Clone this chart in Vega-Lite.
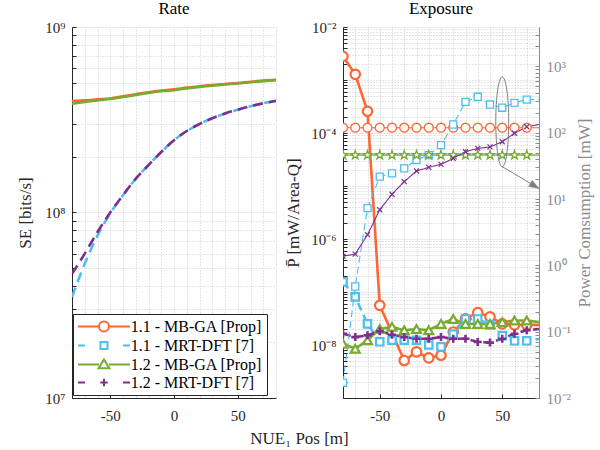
{
  "$schema": "https://vega.github.io/schema/vega-lite/v6.json",
  "autosize": {"type": "pad"},
  "padding": {"left": 16, "top": 0, "right": 8, "bottom": 4},
  "background": "white",
  "config": {
    "font": "Liberation Serif, Times New Roman, serif",
    "view": {"stroke": null},
    "axis": {
      "labelFont": "Liberation Serif, Times New Roman, serif", "titleFont": "Liberation Serif, Times New Roman, serif",
      "labelFontSize": 15, "titleFontSize": 17, "titleFontWeight": "normal",
      "labelColor": "#262626", "titleColor": "#262626",
      "domainColor": "#262626", "tickColor": "#262626", "domainWidth": 1,
      "labelOverlap": false, "labelFlush": false, "gridWidth": 0.8
    },
    "legend": {"labelFont": "Liberation Serif, Times New Roman, serif"},
    "title": {"font": "Liberation Serif, Times New Roman, serif", "fontSize": 17, "fontWeight": "normal", "color": "#000000"}
  },
  "datasets": {
    "se": [
      {"x": -80, "s": "1.1 - MB-GA [Prop]", "v": 3.99e8}, {"x": -70, "s": "1.1 - MB-GA [Prop]", "v": 4.02e8},
      {"x": -60, "s": "1.1 - MB-GA [Prop]", "v": 4.07e8}, {"x": -50, "s": "1.1 - MB-GA [Prop]", "v": 4.12e8},
      {"x": -40, "s": "1.1 - MB-GA [Prop]", "v": 4.23e8}, {"x": -30, "s": "1.1 - MB-GA [Prop]", "v": 4.34e8},
      {"x": -20, "s": "1.1 - MB-GA [Prop]", "v": 4.45e8}, {"x": -10, "s": "1.1 - MB-GA [Prop]", "v": 4.54e8},
      {"x": 0, "s": "1.1 - MB-GA [Prop]", "v": 4.61e8}, {"x": 10, "s": "1.1 - MB-GA [Prop]", "v": 4.71e8},
      {"x": 20, "s": "1.1 - MB-GA [Prop]", "v": 4.79e8}, {"x": 30, "s": "1.1 - MB-GA [Prop]", "v": 4.87e8},
      {"x": 40, "s": "1.1 - MB-GA [Prop]", "v": 4.93e8}, {"x": 50, "s": "1.1 - MB-GA [Prop]", "v": 4.99e8},
      {"x": 60, "s": "1.1 - MB-GA [Prop]", "v": 5.07e8}, {"x": 70, "s": "1.1 - MB-GA [Prop]", "v": 5.14e8},
      {"x": 80, "s": "1.1 - MB-GA [Prop]", "v": 5.2e8},
      {"x": -80, "s": "1.1 - MRT-DFT [7]", "v": 3.5e7}, {"x": -70, "s": "1.1 - MRT-DFT [7]", "v": 5.3e7},
      {"x": -60, "s": "1.1 - MRT-DFT [7]", "v": 7.5e7}, {"x": -50, "s": "1.1 - MRT-DFT [7]", "v": 9.9e7},
      {"x": -40, "s": "1.1 - MRT-DFT [7]", "v": 1.24e8}, {"x": -30, "s": "1.1 - MRT-DFT [7]", "v": 1.52e8},
      {"x": -20, "s": "1.1 - MRT-DFT [7]", "v": 1.8e8}, {"x": -10, "s": "1.1 - MRT-DFT [7]", "v": 2.12e8},
      {"x": 0, "s": "1.1 - MRT-DFT [7]", "v": 2.45e8}, {"x": 10, "s": "1.1 - MRT-DFT [7]", "v": 2.75e8},
      {"x": 20, "s": "1.1 - MRT-DFT [7]", "v": 3.0e8}, {"x": 30, "s": "1.1 - MRT-DFT [7]", "v": 3.22e8},
      {"x": 40, "s": "1.1 - MRT-DFT [7]", "v": 3.42e8}, {"x": 50, "s": "1.1 - MRT-DFT [7]", "v": 3.58e8},
      {"x": 60, "s": "1.1 - MRT-DFT [7]", "v": 3.74e8}, {"x": 70, "s": "1.1 - MRT-DFT [7]", "v": 3.88e8},
      {"x": 80, "s": "1.1 - MRT-DFT [7]", "v": 4.0e8},
      {"x": -80, "s": "1.2 - MB-GA [Prop]", "v": 3.86e8}, {"x": -70, "s": "1.2 - MB-GA [Prop]", "v": 3.94e8},
      {"x": -60, "s": "1.2 - MB-GA [Prop]", "v": 4.02e8}, {"x": -50, "s": "1.2 - MB-GA [Prop]", "v": 4.09e8},
      {"x": -40, "s": "1.2 - MB-GA [Prop]", "v": 4.19e8}, {"x": -30, "s": "1.2 - MB-GA [Prop]", "v": 4.3e8},
      {"x": -20, "s": "1.2 - MB-GA [Prop]", "v": 4.41e8}, {"x": -10, "s": "1.2 - MB-GA [Prop]", "v": 4.5e8},
      {"x": 0, "s": "1.2 - MB-GA [Prop]", "v": 4.57e8}, {"x": 10, "s": "1.2 - MB-GA [Prop]", "v": 4.67e8},
      {"x": 20, "s": "1.2 - MB-GA [Prop]", "v": 4.75e8}, {"x": 30, "s": "1.2 - MB-GA [Prop]", "v": 4.83e8},
      {"x": 40, "s": "1.2 - MB-GA [Prop]", "v": 4.9e8}, {"x": 50, "s": "1.2 - MB-GA [Prop]", "v": 4.96e8},
      {"x": 60, "s": "1.2 - MB-GA [Prop]", "v": 5.04e8}, {"x": 70, "s": "1.2 - MB-GA [Prop]", "v": 5.11e8},
      {"x": 80, "s": "1.2 - MB-GA [Prop]", "v": 5.17e8},
      {"x": -80, "s": "1.2 - MRT-DFT [7]", "v": 4.67e7}, {"x": -70, "s": "1.2 - MRT-DFT [7]", "v": 6.0e7},
      {"x": -60, "s": "1.2 - MRT-DFT [7]", "v": 7.85e7}, {"x": -50, "s": "1.2 - MRT-DFT [7]", "v": 1.0e8},
      {"x": -40, "s": "1.2 - MRT-DFT [7]", "v": 1.24e8}, {"x": -30, "s": "1.2 - MRT-DFT [7]", "v": 1.52e8},
      {"x": -20, "s": "1.2 - MRT-DFT [7]", "v": 1.8e8}, {"x": -10, "s": "1.2 - MRT-DFT [7]", "v": 2.12e8},
      {"x": 0, "s": "1.2 - MRT-DFT [7]", "v": 2.45e8}, {"x": 10, "s": "1.2 - MRT-DFT [7]", "v": 2.75e8},
      {"x": 20, "s": "1.2 - MRT-DFT [7]", "v": 3.0e8}, {"x": 30, "s": "1.2 - MRT-DFT [7]", "v": 3.22e8},
      {"x": 40, "s": "1.2 - MRT-DFT [7]", "v": 3.42e8}, {"x": 50, "s": "1.2 - MRT-DFT [7]", "v": 3.58e8},
      {"x": 60, "s": "1.2 - MRT-DFT [7]", "v": 3.74e8}, {"x": 70, "s": "1.2 - MRT-DFT [7]", "v": 3.88e8},
      {"x": 80, "s": "1.2 - MRT-DFT [7]", "v": 4.0e8}
    ],
    "exp": [
      {"x": -80, "s": "1.1 - MB-GA [Prop]", "v": 2.8e-3}, {"x": -70, "s": "1.1 - MB-GA [Prop]", "v": 1.28e-3},
      {"x": -60, "s": "1.1 - MB-GA [Prop]", "v": 2.57e-4}, {"x": -50, "s": "1.1 - MB-GA [Prop]", "v": 5.6e-8},
      {"x": -30, "s": "1.1 - MB-GA [Prop]", "v": 5.1e-9}, {"x": -20, "s": "1.1 - MB-GA [Prop]", "v": 7.4e-9},
      {"x": -10, "s": "1.1 - MB-GA [Prop]", "v": 5.7e-9}, {"x": 0, "s": "1.1 - MB-GA [Prop]", "v": 6.4e-9},
      {"x": 10, "s": "1.1 - MB-GA [Prop]", "v": 1.76e-8}, {"x": 20, "s": "1.1 - MB-GA [Prop]", "v": 3.1e-8},
      {"x": 30, "s": "1.1 - MB-GA [Prop]", "v": 4.1e-8}, {"x": 40, "s": "1.1 - MB-GA [Prop]", "v": 3.4e-8},
      {"x": 50, "s": "1.1 - MB-GA [Prop]", "v": 2.5e-8}, {"x": 60, "s": "1.1 - MB-GA [Prop]", "v": 2.4e-8},
      {"x": 70, "s": "1.1 - MB-GA [Prop]", "v": 2.4e-8}, {"x": 80, "s": "1.1 - MB-GA [Prop]", "v": 2.4e-8},
      {"x": -80, "s": "1.1 - MRT-DFT [7]", "v": 1.55e-7}, {"x": -70, "s": "1.1 - MRT-DFT [7]", "v": 8.1e-8},
      {"x": -60, "s": "1.1 - MRT-DFT [7]", "v": 2.5e-8}, {"x": -50, "s": "1.1 - MRT-DFT [7]", "v": 1.15e-8},
      {"x": -40, "s": "1.1 - MRT-DFT [7]", "v": 1.23e-8}, {"x": -30, "s": "1.1 - MRT-DFT [7]", "v": 1.23e-8},
      {"x": -20, "s": "1.1 - MRT-DFT [7]", "v": 1.23e-8}, {"x": -10, "s": "1.1 - MRT-DFT [7]", "v": 1.0e-8},
      {"x": 0, "s": "1.1 - MRT-DFT [7]", "v": 9.2e-9}, {"x": 10, "s": "1.1 - MRT-DFT [7]", "v": 1.6e-8},
      {"x": 20, "s": "1.1 - MRT-DFT [7]", "v": 3.1e-8}, {"x": 30, "s": "1.1 - MRT-DFT [7]", "v": 3.1e-8},
      {"x": 40, "s": "1.1 - MRT-DFT [7]", "v": 2.4e-8}, {"x": 50, "s": "1.1 - MRT-DFT [7]", "v": 1.5e-8},
      {"x": 60, "s": "1.1 - MRT-DFT [7]", "v": 1.2e-8}, {"x": 70, "s": "1.1 - MRT-DFT [7]", "v": 1.2e-8},
      {"x": 80, "s": "1.1 - MRT-DFT [7]", "v": 1.3e-8},
      {"x": -80, "s": "1.2 - MB-GA [Prop]", "v": 1.06e-8}, {"x": -70, "s": "1.2 - MB-GA [Prop]", "v": 8.5e-9},
      {"x": -60, "s": "1.2 - MB-GA [Prop]", "v": 1.23e-8}, {"x": -50, "s": "1.2 - MB-GA [Prop]", "v": 2.0e-8},
      {"x": -40, "s": "1.2 - MB-GA [Prop]", "v": 2.2e-8}, {"x": -30, "s": "1.2 - MB-GA [Prop]", "v": 1.9e-8},
      {"x": -20, "s": "1.2 - MB-GA [Prop]", "v": 2.0e-8}, {"x": -10, "s": "1.2 - MB-GA [Prop]", "v": 1.9e-8},
      {"x": 0, "s": "1.2 - MB-GA [Prop]", "v": 2.5e-8}, {"x": 10, "s": "1.2 - MB-GA [Prop]", "v": 3.1e-8},
      {"x": 20, "s": "1.2 - MB-GA [Prop]", "v": 2.5e-8}, {"x": 30, "s": "1.2 - MB-GA [Prop]", "v": 2.5e-8},
      {"x": 40, "s": "1.2 - MB-GA [Prop]", "v": 2.5e-8}, {"x": 50, "s": "1.2 - MB-GA [Prop]", "v": 2.7e-8},
      {"x": 60, "s": "1.2 - MB-GA [Prop]", "v": 2.9e-8}, {"x": 70, "s": "1.2 - MB-GA [Prop]", "v": 2.9e-8},
      {"x": 80, "s": "1.2 - MB-GA [Prop]", "v": 2.7e-8},
      {"x": -80, "s": "1.2 - MRT-DFT [7]", "v": 1.63e-8}, {"x": -70, "s": "1.2 - MRT-DFT [7]", "v": 1.41e-8},
      {"x": -60, "s": "1.2 - MRT-DFT [7]", "v": 1.52e-8}, {"x": -50, "s": "1.2 - MRT-DFT [7]", "v": 1.82e-8},
      {"x": -40, "s": "1.2 - MRT-DFT [7]", "v": 1.56e-8}, {"x": -30, "s": "1.2 - MRT-DFT [7]", "v": 1.41e-8},
      {"x": -20, "s": "1.2 - MRT-DFT [7]", "v": 1.31e-8}, {"x": -10, "s": "1.2 - MRT-DFT [7]", "v": 1.31e-8},
      {"x": 0, "s": "1.2 - MRT-DFT [7]", "v": 1.41e-8}, {"x": 10, "s": "1.2 - MRT-DFT [7]", "v": 1.31e-8},
      {"x": 20, "s": "1.2 - MRT-DFT [7]", "v": 1.31e-8}, {"x": 30, "s": "1.2 - MRT-DFT [7]", "v": 1.14e-8},
      {"x": 40, "s": "1.2 - MRT-DFT [7]", "v": 1.11e-8}, {"x": 50, "s": "1.2 - MRT-DFT [7]", "v": 1.31e-8},
      {"x": 60, "s": "1.2 - MRT-DFT [7]", "v": 1.63e-8}, {"x": 70, "s": "1.2 - MRT-DFT [7]", "v": 1.9e-8},
      {"x": 80, "s": "1.2 - MRT-DFT [7]", "v": 2.0e-8}
    ],
    "pw": [
      {"x": -80, "s": "1.1 - MB-GA [Prop]", "v": 119}, {"x": -70, "s": "1.1 - MB-GA [Prop]", "v": 119},
      {"x": -60, "s": "1.1 - MB-GA [Prop]", "v": 119}, {"x": -50, "s": "1.1 - MB-GA [Prop]", "v": 119},
      {"x": -40, "s": "1.1 - MB-GA [Prop]", "v": 119}, {"x": -30, "s": "1.1 - MB-GA [Prop]", "v": 119},
      {"x": -20, "s": "1.1 - MB-GA [Prop]", "v": 119}, {"x": -10, "s": "1.1 - MB-GA [Prop]", "v": 119},
      {"x": 0, "s": "1.1 - MB-GA [Prop]", "v": 119}, {"x": 10, "s": "1.1 - MB-GA [Prop]", "v": 119},
      {"x": 20, "s": "1.1 - MB-GA [Prop]", "v": 119}, {"x": 30, "s": "1.1 - MB-GA [Prop]", "v": 119},
      {"x": 40, "s": "1.1 - MB-GA [Prop]", "v": 119}, {"x": 50, "s": "1.1 - MB-GA [Prop]", "v": 119},
      {"x": 60, "s": "1.1 - MB-GA [Prop]", "v": 119}, {"x": 70, "s": "1.1 - MB-GA [Prop]", "v": 119},
      {"x": 80, "s": "1.1 - MB-GA [Prop]", "v": 119},
      {"x": -80, "s": "1.1 - MRT-DFT [7]", "v": 0.017}, {"x": -70, "s": "1.1 - MRT-DFT [7]", "v": 0.48},
      {"x": -60, "s": "1.1 - MRT-DFT [7]", "v": 7.3}, {"x": -50, "s": "1.1 - MRT-DFT [7]", "v": 21.8},
      {"x": -40, "s": "1.1 - MRT-DFT [7]", "v": 24.4}, {"x": -30, "s": "1.1 - MRT-DFT [7]", "v": 29},
      {"x": -20, "s": "1.1 - MRT-DFT [7]", "v": 38.8}, {"x": -10, "s": "1.1 - MRT-DFT [7]", "v": 46},
      {"x": 0, "s": "1.1 - MRT-DFT [7]", "v": 65}, {"x": 10, "s": "1.1 - MRT-DFT [7]", "v": 133},
      {"x": 20, "s": "1.1 - MRT-DFT [7]", "v": 292}, {"x": 30, "s": "1.1 - MRT-DFT [7]", "v": 348},
      {"x": 40, "s": "1.1 - MRT-DFT [7]", "v": 266}, {"x": 50, "s": "1.1 - MRT-DFT [7]", "v": 238},
      {"x": 60, "s": "1.1 - MRT-DFT [7]", "v": 282}, {"x": 70, "s": "1.1 - MRT-DFT [7]", "v": 316},
      {"x": 80, "s": "1.1 - MRT-DFT [7]", "v": 320},
      {"x": -80, "s": "1.2 - MB-GA [Prop]", "v": 46}, {"x": -70, "s": "1.2 - MB-GA [Prop]", "v": 46},
      {"x": -60, "s": "1.2 - MB-GA [Prop]", "v": 46}, {"x": -50, "s": "1.2 - MB-GA [Prop]", "v": 46},
      {"x": -40, "s": "1.2 - MB-GA [Prop]", "v": 46}, {"x": -30, "s": "1.2 - MB-GA [Prop]", "v": 46},
      {"x": -20, "s": "1.2 - MB-GA [Prop]", "v": 46}, {"x": -10, "s": "1.2 - MB-GA [Prop]", "v": 46},
      {"x": 0, "s": "1.2 - MB-GA [Prop]", "v": 46}, {"x": 10, "s": "1.2 - MB-GA [Prop]", "v": 46},
      {"x": 20, "s": "1.2 - MB-GA [Prop]", "v": 46}, {"x": 30, "s": "1.2 - MB-GA [Prop]", "v": 46},
      {"x": 40, "s": "1.2 - MB-GA [Prop]", "v": 46}, {"x": 50, "s": "1.2 - MB-GA [Prop]", "v": 46},
      {"x": 60, "s": "1.2 - MB-GA [Prop]", "v": 46}, {"x": 70, "s": "1.2 - MB-GA [Prop]", "v": 46},
      {"x": 80, "s": "1.2 - MB-GA [Prop]", "v": 46},
      {"x": -80, "s": "1.2 - MRT-DFT [7]", "v": 1.37}, {"x": -70, "s": "1.2 - MRT-DFT [7]", "v": 1.48},
      {"x": -60, "s": "1.2 - MRT-DFT [7]", "v": 2.9}, {"x": -50, "s": "1.2 - MRT-DFT [7]", "v": 6.9},
      {"x": -40, "s": "1.2 - MRT-DFT [7]", "v": 11.8}, {"x": -30, "s": "1.2 - MRT-DFT [7]", "v": 18.3},
      {"x": -20, "s": "1.2 - MRT-DFT [7]", "v": 26.5}, {"x": -10, "s": "1.2 - MRT-DFT [7]", "v": 30},
      {"x": 0, "s": "1.2 - MRT-DFT [7]", "v": 33.4}, {"x": 10, "s": "1.2 - MRT-DFT [7]", "v": 41},
      {"x": 20, "s": "1.2 - MRT-DFT [7]", "v": 51.7}, {"x": 30, "s": "1.2 - MRT-DFT [7]", "v": 58},
      {"x": 40, "s": "1.2 - MRT-DFT [7]", "v": 61}, {"x": 50, "s": "1.2 - MRT-DFT [7]", "v": 73},
      {"x": 60, "s": "1.2 - MRT-DFT [7]", "v": 98}, {"x": 70, "s": "1.2 - MRT-DFT [7]", "v": 123},
      {"x": 80, "s": "1.2 - MRT-DFT [7]", "v": 133}
    ],
    "ell": [{"x": 50, "v": 146}],
    "arr": [{"x": 50, "v": 30.8, "x2": 80, "v2": 14.4}],
    "head": [{"x": 80, "v": 14.4}]
  },
  "hconcat": [
    {
      "width": 204, "height": 371,
      "title": {"text": "Rate", "offset": 2},
      "data": {"name": "se"},
      "encoding": {
        "x": {"field": "x", "type": "quantitative", "scale": {"domain": [-80, 80], "nice": false, "zero": false},
          "axis": {"values": [-70, -60, -50, -40, -30, -20, -10, 0, 10, 20, 30, 40, 50, 60, 70, 80],
            "labelExpr": "datum.value % 50 === 0 ? '' + datum.value : ''",
            "title": "NUE₁ Pos [m]", "titleX": 227, "titleY": 40, "titleBaseline": "middle", "titleAlign": "center",
            "grid": true,
            "gridDash": {"condition": {"test": "datum.value % 50 === 0", "value": [1, 0]}, "value": [1, 2]},
            "gridColor": {"condition": {"test": "datum.value % 50 === 0", "value": "#e0e0e0"}, "value": "#bdbdbd"},
            "tickOpacity": {"condition": {"test": "datum.value % 50 === 0", "value": 1}, "value": 0},
            "tickSize": -4, "labelPadding": 14}},
        "y": {"field": "v", "type": "quantitative", "scale": {"type": "log", "domain": [1e7, 1e9], "nice": false},
          "axis": {"values": [1e7, 2e7, 3e7, 4e7, 5e7, 6e7, 7e7, 8e7, 9e7, 1e8, 2e8, 3e8, 4e8, 5e8, 6e8, 7e8, 8e8, 9e8, 1e9],
            "labelExpr": "datum.value == 1e9 ? '10⁹' : datum.value == 1e8 ? '10⁸' : datum.value == 1e7 ? '10⁷' : ''",
            "title": "SE [bits/s]", "titlePadding": 10,
            "grid": true,
            "gridDash": {"condition": {"test": "datum.value == 1e7 || datum.value == 1e8 || datum.value == 1e9", "value": [1, 0]}, "value": [1, 2]},
            "gridColor": {"condition": {"test": "datum.value == 1e7 || datum.value == 1e8 || datum.value == 1e9", "value": "#e0e0e0"}, "value": "#bdbdbd"},
            "tickSize": -4, "labelPadding": 11}},
        "color": {"field": "s", "type": "nominal",
          "scale": {"domain": ["1.1 - MB-GA [Prop]", "1.1 - MRT-DFT [7]", "1.2 - MB-GA [Prop]", "1.2 - MRT-DFT [7]"],
            "range": ["#FF6633", "#4DBEEE", "#77AC30", "#7E2F8E"]},
          "legend": {"title": null, "orient": "none", "legendX": 1, "legendY": 287, "symbolSize": 225, "symbolStrokeWidth": 2,
            "symbolOpacity": 1, "symbolOffset": 18.5, "labelOffset": 18.2, "padding": 4, "rowPadding": 1,
            "labelFontSize": 16, "labelColor": "#000000",
            "strokeColor": "#262626", "fillColor": "#ffffff", "labelLimit": 300}}
      },
      "layer": [
        {
          "transform": [{"filter": "datum.s === '1.1 - MB-GA [Prop]' || datum.s === '1.2 - MB-GA [Prop]'"}],
          "mark": {"type": "line", "strokeWidth": 2.6, "interpolate": "monotone", "clip": true}
        },
        {
          "transform": [{"filter": "datum.s === '1.1 - MRT-DFT [7]' || datum.s === '1.2 - MRT-DFT [7]'"}],
          "mark": {"type": "line", "strokeWidth": 2.6, "strokeDash": [10, 6], "interpolate": "monotone", "clip": true}
        },
        {
          "transform": [{"filter": "false"}],
          "mark": {"type": "point", "filled": false, "strokeWidth": 2},
          "encoding": {
            "shape": {"field": "s", "type": "nominal",
              "scale": {"domain": ["1.1 - MB-GA [Prop]", "1.1 - MRT-DFT [7]", "1.2 - MB-GA [Prop]", "1.2 - MRT-DFT [7]"],
                "range": [
                  "M-3.47,0H-0.67M0.67,0H3.47M0.67,0A0.67,0.67,0,1,1,-0.67,0A0.67,0.67,0,1,1,0.67,0",
                  "M-3.47,0H-2.53M2.53,0H3.47M-0.47,-0.47H0.47V0.47H-0.47Z",
                  "M-3.47,0H-0.67M0.67,0H3.47M0,-0.67L0.73,0.5H-0.73Z",
                  "M-3.47,0H-2.53M2.53,0H3.47M-0.5,0H0.5M0,-0.5V0.5"
                ]},
              "legend": {"title": null, "orient": "none", "legendX": 1, "legendY": 287, "symbolSize": 225, "symbolStrokeWidth": 2,
                "symbolOpacity": 1, "symbolOffset": 18.5, "labelOffset": 18.2, "padding": 4, "rowPadding": 1,
                "labelFontSize": 16, "labelColor": "#000000",
                "strokeColor": "#262626", "fillColor": "#ffffff", "labelLimit": 300}}
          }
        }
      ]
    },
    {
      "width": 196, "height": 371,
      "title": {"text": "Exposure", "offset": 2},
      "encoding": {
        "x": {"field": "x", "type": "quantitative", "scale": {"domain": [-80, 80], "nice": false, "zero": false},
          "axis": {"values": [-70, -60, -50, -40, -30, -20, -10, 0, 10, 20, 30, 40, 50, 60, 70, 80],
            "labelExpr": "datum.value % 50 === 0 ? '' + datum.value : ''",
            "title": null, "grid": true,
            "gridDash": {"condition": {"test": "datum.value % 50 === 0", "value": [1, 0]}, "value": [1, 2]},
            "gridColor": {"condition": {"test": "datum.value % 50 === 0", "value": "#e0e0e0"}, "value": "#bdbdbd"},
            "tickOpacity": {"condition": {"test": "datum.value % 50 === 0", "value": 1}, "value": 0},
            "tickSize": -4, "labelPadding": 14}},
        "stroke": {"field": "s", "type": "nominal",
          "scale": {"domain": ["1.1 - MB-GA [Prop]", "1.1 - MRT-DFT [7]", "1.2 - MB-GA [Prop]", "1.2 - MRT-DFT [7]"],
            "range": ["#FF6633", "#4DBEEE", "#77AC30", "#7E2F8E"]}, "legend": null}
      },
      "layer": [
        {
          "data": {"name": "exp"},
          "encoding": {
            "y": {"field": "v", "type": "quantitative", "scale": {"type": "log", "domain": [1e-9, 0.01], "nice": false},
              "axis": {"orient": "left",
                "values": [1e-9, 2e-9, 3e-9, 4e-9, 5e-9, 6e-9, 7e-9, 8e-9, 9e-9, 1e-8, 2e-8, 3e-8, 4e-8, 5e-8, 6e-8, 7e-8, 8e-8, 9e-8, 1e-7, 2e-7, 3e-7, 4e-7, 5e-7, 6e-7, 7e-7, 8e-7, 9e-7, 1e-6, 2e-6, 3e-6, 4e-6, 5e-6, 6e-6, 7e-6, 8e-6, 9e-6, 1e-5, 2e-5, 3e-5, 4e-5, 5e-5, 6e-5, 7e-5, 8e-5, 9e-5, 1e-4, 2e-4, 3e-4, 4e-4, 5e-4, 6e-4, 7e-4, 8e-4, 9e-4, 1e-3, 2e-3, 3e-3, 4e-3, 5e-3, 6e-3, 7e-3, 8e-3, 9e-3, 1e-2],
                "labelExpr": "datum.value == 1e-2 ? '10⁻²' : datum.value == 1e-4 ? '10⁻⁴' : datum.value == 1e-6 ? '10⁻⁶' : datum.value == 1e-8 ? '10⁻⁸' : ''",
                "title": "P̄ [mW/Area-Q]", "titlePadding": 8,
                "grid": true,
                "gridDash": {"condition": {"test": "datum.value == 1e-2 || datum.value == 1e-4 || datum.value == 1e-6 || datum.value == 1e-8", "value": [1, 0]}, "value": [1, 2]},
                "gridColor": {"condition": {"test": "datum.value == 1e-2 || datum.value == 1e-4 || datum.value == 1e-6 || datum.value == 1e-8", "value": "#e0e0e0"}, "value": "#bdbdbd"},
                "tickSize": -4, "labelPadding": 11}}
          },
          "layer": [
            {
              "mark": {"type": "line", "strokeWidth": 2.6, "clip": true},
              "encoding": {
                "strokeDash": {"field": "s", "type": "nominal",
                  "scale": {"domain": ["1.1 - MB-GA [Prop]", "1.1 - MRT-DFT [7]", "1.2 - MB-GA [Prop]", "1.2 - MRT-DFT [7]"],
                    "range": [[1, 0], [8, 5], [1, 0], [8, 5]]}, "legend": null}
              }
            },
            {"transform": [{"filter": "datum.s === '1.1 - MB-GA [Prop]' && datum.x < 80"}],
             "mark": {"type": "point", "shape": "circle", "size": 90, "filled": true, "fill": "#ffffff", "opacity": 1, "strokeWidth": 2.2, "clip": true}},
            {"transform": [{"filter": "datum.s === '1.1 - MRT-DFT [7]' && datum.x < 80"}],
             "mark": {"type": "point", "shape": "square", "size": 55, "filled": true, "fill": "#ffffff", "opacity": 1, "strokeWidth": 2.2, "clip": true}},
            {"transform": [{"filter": "datum.s === '1.2 - MB-GA [Prop]' && datum.x < 80"}],
             "mark": {"type": "point", "shape": "triangle-up", "size": 80, "filled": true, "fill": "#ffffff", "opacity": 1, "strokeWidth": 2.2, "clip": true}},
            {"transform": [{"filter": "datum.s === '1.2 - MRT-DFT [7]' && datum.x < 80"}],
             "mark": {"type": "point", "shape": "M-1,0H1M0,-1V1", "size": 64, "filled": false, "opacity": 1, "strokeWidth": 2.6, "clip": true}}
          ]
        },
        {
          "data": {"name": "pw"},
          "encoding": {
            "y": {"field": "v", "type": "quantitative", "scale": {"type": "log", "domain": [0.01, 3926], "nice": false},
              "axis": {"orient": "right",
                "values": [0.01, 0.02, 0.03, 0.04, 0.05, 0.06, 0.07, 0.08, 0.09, 0.1, 0.2, 0.3, 0.4, 0.5, 0.6, 0.7, 0.8, 0.9, 1, 2, 3, 4, 5, 6, 7, 8, 9, 10, 20, 30, 40, 50, 60, 70, 80, 90, 100, 200, 300, 400, 500, 600, 700, 800, 900, 1000, 2000, 3000],
                "labelExpr": "datum.value == 0.01 ? '10⁻²' : datum.value == 0.1 ? '10⁻¹' : datum.value == 1 ? '10⁰' : datum.value == 10 ? '10¹' : datum.value == 100 ? '10²' : datum.value == 1000 ? '10³' : ''",
                "title": "Power Comsumption [mW]", "titleAngle": 270, "titleBaseline": "top", "titlePadding": 6,
                "titleColor": "#8c8c8c", "labelColor": "#8c8c8c", "domainColor": "#8c8c8c", "tickColor": "#8c8c8c",
                "grid": false, "tickSize": -4, "labelPadding": 11}}
          },
          "layer": [
            {
              "mark": {"type": "line", "strokeWidth": 1.1, "clip": true},
              "encoding": {
                "strokeDash": {"field": "s", "type": "nominal",
                  "scale": {"domain": ["1.1 - MB-GA [Prop]", "1.1 - MRT-DFT [7]", "1.2 - MB-GA [Prop]", "1.2 - MRT-DFT [7]"],
                    "range": [[1, 0], [7, 4], [1, 0], [1, 0]]}, "legend": null}
              }
            },
            {"transform": [{"filter": "datum.s === '1.1 - MB-GA [Prop]' && datum.x < 80"}],
             "mark": {"type": "point", "shape": "circle", "size": 80, "filled": true, "fill": "#ffffff", "opacity": 1, "strokeWidth": 1.3, "clip": true}},
            {"transform": [{"filter": "datum.s === '1.1 - MRT-DFT [7]' && datum.x < 80"}],
             "mark": {"type": "point", "shape": "square", "size": 50, "filled": true, "fill": "#ffffff", "opacity": 1, "strokeWidth": 1.3, "clip": true}},
            {"transform": [{"filter": "datum.s === '1.2 - MB-GA [Prop]' && datum.x < 80"}],
             "mark": {"type": "point", "shape": "M0,-1L0.225,-0.309L0.951,-0.309L0.363,0.118L0.588,0.809L0,0.382L-0.588,0.809L-0.363,0.118L-0.951,-0.309L-0.225,-0.309Z", "size": 90, "filled": true, "fill": "#ffffff", "opacity": 1, "strokeWidth": 1.3, "clip": true}},
            {"transform": [{"filter": "datum.s === '1.2 - MRT-DFT [7]' && datum.x < 80"}],
             "mark": {"type": "point", "shape": "M-1,-1L1,1M-1,1L1,-1", "size": 25, "filled": false, "opacity": 1, "strokeWidth": 1.2, "clip": true}},
            {
              "data": {"name": "ell"},
              "mark": {"type": "point", "shape": "M0.144,0A0.144,1,0,1,1,-0.144,0A0.144,1,0,1,1,0.144,0", "size": 8100, "filled": false, "strokeWidth": 1, "opacity": 1, "clip": false},
              "encoding": {"stroke": {"value": "#7f7f7f"}}
            },
            {
              "data": {"name": "arr"},
              "mark": {"type": "rule", "strokeWidth": 1, "clip": false},
              "encoding": {"x2": {"field": "x2"}, "y2": {"field": "v2"}, "stroke": {"value": "#7f7f7f"}}
            },
            {
              "data": {"name": "head"},
              "mark": {"type": "point", "shape": "M0,0L-2,-0.7L-2,0.7Z", "size": 100, "angle": 31, "filled": true, "fill": "#7f7f7f", "strokeWidth": 0.5, "opacity": 1, "clip": false},
              "encoding": {"stroke": {"value": "#7f7f7f"}}
            }
          ]
        }
      ],
      "resolve": {"scale": {"y": "independent", "strokeDash": "independent"}}
    }
  ],
  "spacing": 67,
  "bounds": "flush",
  "resolve": {"scale": {"color": "independent", "shape": "independent", "stroke": "independent", "strokeDash": "independent"}}
}
